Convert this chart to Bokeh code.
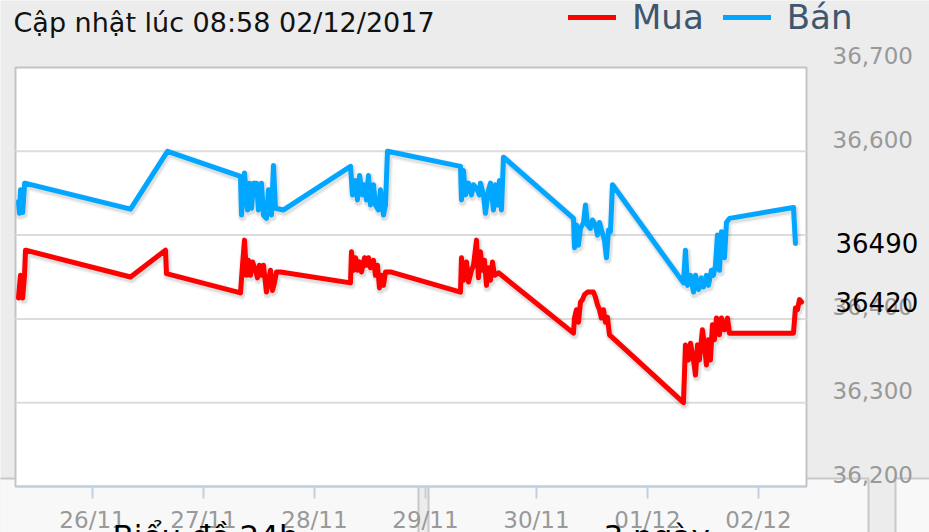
import pandas as pd
from bokeh.plotting import figure
from bokeh.models import (Range1d, FixedTicker, NumeralTickFormatter, DatetimeTickFormatter,
                          Label, Legend, LegendItem, LinearAxis)
from bokeh.embed import file_html
from bokeh.resources import INLINE

# ---------------- data ----------------
update_text = "Cập nhật lúc 08:58 02/12/2017"
series_names = ["Mua", "Bán"]
series_colors = ["#ff0000", "#00a6ff"]
tab_labels = ["Biểu đồ 24h", "3 ngày"]
x_tick_dates = ["2017-11-26", "2017-11-27", "2017-11-28", "2017-11-29",
                "2017-11-30", "2017-12-01", "2017-12-02"]
y_tick_values = [36200, 36300, 36400, 36600, 36700]
y_grid_values = [36300, 36400, 36500, 36600]

mua_time = [
    "2017-11-25 08:00", "2017-11-25 08:26", "2017-11-25 08:54", "2017-11-25 09:18", "2017-11-25 09:31",
    "2017-11-26 08:13", "2017-11-26 15:47", "2017-11-26 16:00",
    "2017-11-27 08:00", "2017-11-27 08:26", "2017-11-27 08:52", "2017-11-27 09:18", "2017-11-27 09:44",
    "2017-11-27 10:10", "2017-11-27 10:36", "2017-11-27 11:14", "2017-11-27 11:40", "2017-11-27 12:06",
    "2017-11-27 12:32", "2017-11-27 12:58", "2017-11-27 13:37", "2017-11-27 14:03", "2017-11-27 14:29",
    "2017-11-27 14:55", "2017-11-27 15:21", "2017-11-27 15:47", "2017-11-27 16:39",
    "2017-11-28 07:47", "2017-11-28 08:00", "2017-11-28 08:26", "2017-11-28 08:52", "2017-11-28 09:18",
    "2017-11-28 09:44", "2017-11-28 10:10", "2017-11-28 10:49", "2017-11-28 11:14", "2017-11-28 11:40",
    "2017-11-28 12:06", "2017-11-28 12:45", "2017-11-28 13:11", "2017-11-28 13:37", "2017-11-28 14:03",
    "2017-11-28 14:29", "2017-11-28 14:55", "2017-11-28 15:21", "2017-11-28 16:26",
    "2017-11-29 07:34", "2017-11-29 07:47", "2017-11-29 08:13", "2017-11-29 08:52", "2017-11-29 09:18",
    "2017-11-29 09:57", "2017-11-29 10:23", "2017-11-29 11:02", "2017-11-29 11:27", "2017-11-29 11:53",
    "2017-11-29 12:19", "2017-11-29 12:45", "2017-11-29 13:11", "2017-11-29 13:37", "2017-11-29 14:03",
    "2017-11-29 14:29", "2017-11-29 14:55", "2017-11-29 15:47",
    "2017-11-30 08:00", "2017-11-30 08:13", "2017-11-30 08:39", "2017-11-30 09:05", "2017-11-30 09:31",
    "2017-11-30 09:57", "2017-11-30 10:23", "2017-11-30 11:02", "2017-11-30 11:40", "2017-11-30 12:19",
    "2017-11-30 12:45", "2017-11-30 13:11", "2017-11-30 13:37", "2017-11-30 14:03", "2017-11-30 14:29",
    "2017-11-30 14:55", "2017-11-30 15:21", "2017-11-30 15:47",
    "2017-12-01 07:47", "2017-12-01 08:13", "2017-12-01 08:52", "2017-12-01 09:18", "2017-12-01 09:57",
    "2017-12-01 10:23", "2017-12-01 10:49", "2017-12-01 11:14", "2017-12-01 11:53", "2017-12-01 12:19",
    "2017-12-01 12:45", "2017-12-01 13:11", "2017-12-01 13:37", "2017-12-01 14:03", "2017-12-01 14:29",
    "2017-12-01 14:55", "2017-12-01 15:34", "2017-12-01 16:00", "2017-12-01 16:39", "2017-12-01 17:18",
    "2017-12-01 17:44",
    "2017-12-02 07:34", "2017-12-02 08:00", "2017-12-02 08:26", "2017-12-02 08:52", "2017-12-02 09:18",
]
mua_price = [
    36425, 36452, 36425, 36452, 36482,
    36450, 36482, 36454,
    36431, 36464, 36494, 36452, 36470,
    36452, 36468, 36458, 36449, 36464,
    36452, 36464, 36432, 36446, 36458,
    36434, 36443, 36456, 36456,
    36443, 36480, 36458, 36473, 36458,
    36468, 36456, 36473, 36464, 36473,
    36461, 36470, 36452, 36464, 36437,
    36452, 36440, 36456, 36456,
    36432, 36473, 36446, 36468, 36444,
    36458, 36464, 36494, 36449, 36480,
    36458, 36470, 36440, 36461, 36446,
    36468, 36452, 36455,
    36383, 36401, 36411, 36396, 36420,
    36423, 36429, 36432, 36432, 36432,
    36426, 36417, 36411, 36401, 36411,
    36396, 36402, 36381,
    36300, 36369, 36351, 36371, 36351,
    36333, 36369, 36351, 36387, 36369,
    36345, 36375, 36351, 36393, 36375,
    36401, 36381, 36401, 36387, 36401,
    36383,
    36383, 36413, 36411, 36423, 36420,
]

ban_time = [
    "2017-11-25 08:00", "2017-11-25 08:13", "2017-11-25 08:26", "2017-11-25 08:54", "2017-11-25 09:20",
    "2017-11-26 08:13", "2017-11-26 16:13",
    "2017-11-27 08:00", "2017-11-27 08:13", "2017-11-27 08:52", "2017-11-27 09:31", "2017-11-27 09:57",
    "2017-11-27 10:23", "2017-11-27 10:49", "2017-11-27 11:28", "2017-11-27 11:53", "2017-11-27 12:32",
    "2017-11-27 12:58", "2017-11-27 13:37", "2017-11-27 14:03", "2017-11-27 14:42", "2017-11-27 15:08",
    "2017-11-27 15:34", "2017-11-27 17:18",
    "2017-11-28 07:47", "2017-11-28 08:13", "2017-11-28 08:52", "2017-11-28 09:18", "2017-11-28 09:44",
    "2017-11-28 10:23", "2017-11-28 10:49", "2017-11-28 11:14", "2017-11-28 11:40", "2017-11-28 12:06",
    "2017-11-28 12:45", "2017-11-28 13:11", "2017-11-28 13:50", "2017-11-28 14:16", "2017-11-28 14:55",
    "2017-11-28 15:21", "2017-11-28 15:47",
    "2017-11-29 07:34", "2017-11-29 07:47", "2017-11-29 08:13", "2017-11-29 08:39", "2017-11-29 09:18",
    "2017-11-29 09:57", "2017-11-29 10:23", "2017-11-29 11:02", "2017-11-29 11:40", "2017-11-29 11:53",
    "2017-11-29 12:32", "2017-11-29 12:58", "2017-11-29 13:37", "2017-11-29 14:03", "2017-11-29 14:42",
    "2017-11-29 15:08", "2017-11-29 15:34", "2017-11-29 16:00", "2017-11-29 16:26", "2017-11-29 16:52",
    "2017-11-30 08:00", "2017-11-30 08:13", "2017-11-30 08:39", "2017-11-30 09:05", "2017-11-30 09:31",
    "2017-11-30 10:10", "2017-11-30 10:36", "2017-11-30 11:02", "2017-11-30 11:40", "2017-11-30 12:06",
    "2017-11-30 12:45", "2017-11-30 13:11", "2017-11-30 13:37", "2017-11-30 14:03", "2017-11-30 14:42",
    "2017-11-30 15:08", "2017-11-30 15:34", "2017-11-30 16:00", "2017-11-30 16:26",
    "2017-12-01 07:47", "2017-12-01 08:13", "2017-12-01 08:39", "2017-12-01 09:18", "2017-12-01 09:57",
    "2017-12-01 10:23", "2017-12-01 11:02", "2017-12-01 11:40", "2017-12-01 12:06", "2017-12-01 12:45",
    "2017-12-01 13:11", "2017-12-01 13:50", "2017-12-01 14:16", "2017-12-01 14:42", "2017-12-01 15:08",
    "2017-12-01 15:34", "2017-12-01 16:00", "2017-12-01 16:39", "2017-12-01 17:05", "2017-12-01 17:44",
    "2017-12-02 07:34", "2017-12-02 08:00",
]
ban_price = [
    36540, 36526, 36554, 36527, 36562,
    36531, 36600,
    36570, 36524, 36574, 36530, 36562,
    36532, 36562, 36562, 36530, 36562,
    36524, 36520, 36554, 36524, 36583,
    36532, 36530,
    36582, 36548, 36565, 36542, 36571,
    36548, 36560, 36542, 36571, 36536,
    36560, 36536, 36530, 36554, 36524,
    36536, 36600,
    36582, 36542, 36577, 36548, 36562,
    36548, 36560, 36556, 36548, 36562,
    36548, 36526, 36554, 36562, 36530,
    36560, 36536, 36565, 36530, 36593,
    36520, 36485, 36512, 36488, 36508,
    36515, 36536, 36512, 36508, 36518,
    36512, 36500, 36515, 36506, 36494,
    36473, 36506, 36504, 36560,
    36443, 36482, 36440, 36452, 36432,
    36452, 36435, 36449, 36438, 36452,
    36440, 36458, 36452, 36464, 36500,
    36458, 36504, 36473, 36515, 36520,
    36533, 36490,
]

# visible window of the plot box
x_view = ["2017-11-25 07:21", "2017-12-02 10:23"]
y_view = [36200, 36700]

# ---------------- layout (pixels) ----------------
W, H = 929, 532
BOX_L, BOX_R, BOX_T, BOX_B = 15, 806, 67, 486
FONT = "DejaVu Sans"


def ms(s):
    return pd.Timestamp(s).value / 1e6


xv0, xv1 = ms(x_view[0]), ms(x_view[1])
kx = (BOX_R - BOX_L) / (xv1 - xv0)
ky = (BOX_B - BOX_T) / (y_view[1] - y_view[0])
x_start, x_end = xv0 - BOX_L / kx, xv1 + (W - BOX_R) / kx
y_end, y_start = y_view[1] + BOX_T / ky, y_view[0] - (H - BOX_B) / ky


def px2x(px):
    return x_start + px / kx


def py2y(py):
    return y_end - py / ky


p = figure(width=W, height=H, x_axis_type="datetime", x_axis_location="below",
           y_axis_location=None, title_location=None,
           x_range=Range1d(x_start, x_end), y_range=Range1d(y_start, y_end),
           output_backend="svg", toolbar_location=None, min_border=0)
p.border_fill_color = "#ececec"
p.background_fill_color = "#ececec"
p.outline_line_color = None
p.xgrid.visible = False
p.ygrid.visible = False

# shadow ranges (1px right, 2px down) and label range (12px up)
p.extra_x_ranges = {"shx": Range1d(x_start - 1 / kx, x_end - 1 / kx)}
p.extra_y_ranges = {"shy": Range1d(y_start + 2 / ky, y_end + 2 / ky),
                    "lbl": Range1d(y_start - 12 / ky, y_end - 12 / ky)}

# tab strip below the chart
tab_px = [(-4, 418), (428, 868), (895, 940)]
p.quad(left=[px2x(a) for a, b in tab_px], right=[px2x(b) for a, b in tab_px],
       top=py2y(478), bottom=py2y(560), fill_color="#f8f8f8", line_color="#c8c8c8", line_width=2)

# plot box
p.quad(left=xv0, right=xv1, bottom=y_view[0], top=y_view[1],
       fill_color="#ffffff", line_color="#c4c4c4", line_width=2)

# horizontal grid lines
p.segment(x0=xv0, x1=xv1, y0=y_grid_values, y1=y_grid_values,
          line_color="#dcdcdc", line_width=2)

renderers = []
for name, t, v, c in [(series_names[0], mua_time, mua_price, series_colors[0]),
                      (series_names[1], ban_time, ban_price, series_colors[1])]:
    xs = pd.to_datetime(t)
    p.line(xs, v, line_width=10, line_color="black", line_alpha=0.05,
           x_range_name="shx", y_range_name="shy", line_join="round")
    p.line(xs, v, line_width=7, line_color="black", line_alpha=0.08,
           x_range_name="shx", y_range_name="shy", line_join="round")
    r = p.line(xs, v, line_width=5, line_color=c, line_join="round", line_cap="round")
    renderers.append(r)

# y axis on the right (labels lifted above their grid lines)
yax = LinearAxis(y_range_name="lbl", fixed_location=xv1)
yax.ticker = FixedTicker(ticks=y_tick_values)
yax.formatter = NumeralTickFormatter(format="0,0")
yax.axis_line_color = None
yax.major_tick_line_color = None
yax.minor_tick_line_color = None
yax.major_tick_out = 0
yax.major_tick_in = 0
yax.major_label_standoff = 26
yax.major_label_text_font = FONT
yax.major_label_text_font_size = "23px"
yax.major_label_text_color = "#999999"
p.add_layout(yax, "right")

# x axis below the box
xax = p.xaxis[0]
xax.fixed_location = y_view[0]
xax.bounds = (xv0, xv1)
xax.ticker = FixedTicker(ticks=[ms(d) for d in x_tick_dates])
fmt = "%d/%m"
xax.formatter = DatetimeTickFormatter(milliseconds=fmt, seconds=fmt, minsec=fmt, minutes=fmt,
                                      hourmin=fmt, hours=fmt, days=fmt, months=fmt, years=fmt)
xax.axis_line_color = "#c0d0e0"
xax.axis_line_width = 2
xax.major_tick_line_color = "#c0d0e0"
xax.major_tick_line_width = 2
xax.major_tick_out = 12
xax.major_tick_in = 0
xax.minor_tick_line_color = None
xax.major_label_standoff = 8
xax.major_label_text_font = FONT
xax.major_label_text_font_size = "23px"
xax.major_label_text_color = "#999999"

# legend
legend = Legend(items=[LegendItem(label=series_names[i], renderers=[renderers[i]]) for i in range(2)],
                location=(568, H - 37), orientation="horizontal", padding=0, margin=0,
                spacing=19, label_standoff=16, glyph_width=48, glyph_height=6,
                label_text_font=FONT, label_text_font_size="34px", label_text_color="#3e576f",
                background_fill_alpha=0, border_line_alpha=0)
p.add_layout(legend)

# update time
p.add_layout(Label(x=px2x(13), y=py2y(22), text=update_text,
                   text_font=FONT, text_font_size="27px", text_color="#111111",
                   text_baseline="alphabetic"))

# last value labels
for v in [ban_price, mua_price]:
    p.add_layout(Label(x=xv1, y=v[-1], x_offset=29, text=str(v[-1]),
                       text_font=FONT, text_font_size="26px", text_color="#000000",
                       text_baseline="middle"))

# tab texts (cut by the bottom edge, as in the reference)
for txt, xpix in zip(tab_labels, [112, 603]):
    p.add_layout(Label(x=px2x(xpix), y=py2y(535), text=txt,
                       text_font=FONT, text_font_size="31px", text_color="#000000",
                       text_baseline="alphabetic"))

open("out.html", "w").write(file_html(p, INLINE))
